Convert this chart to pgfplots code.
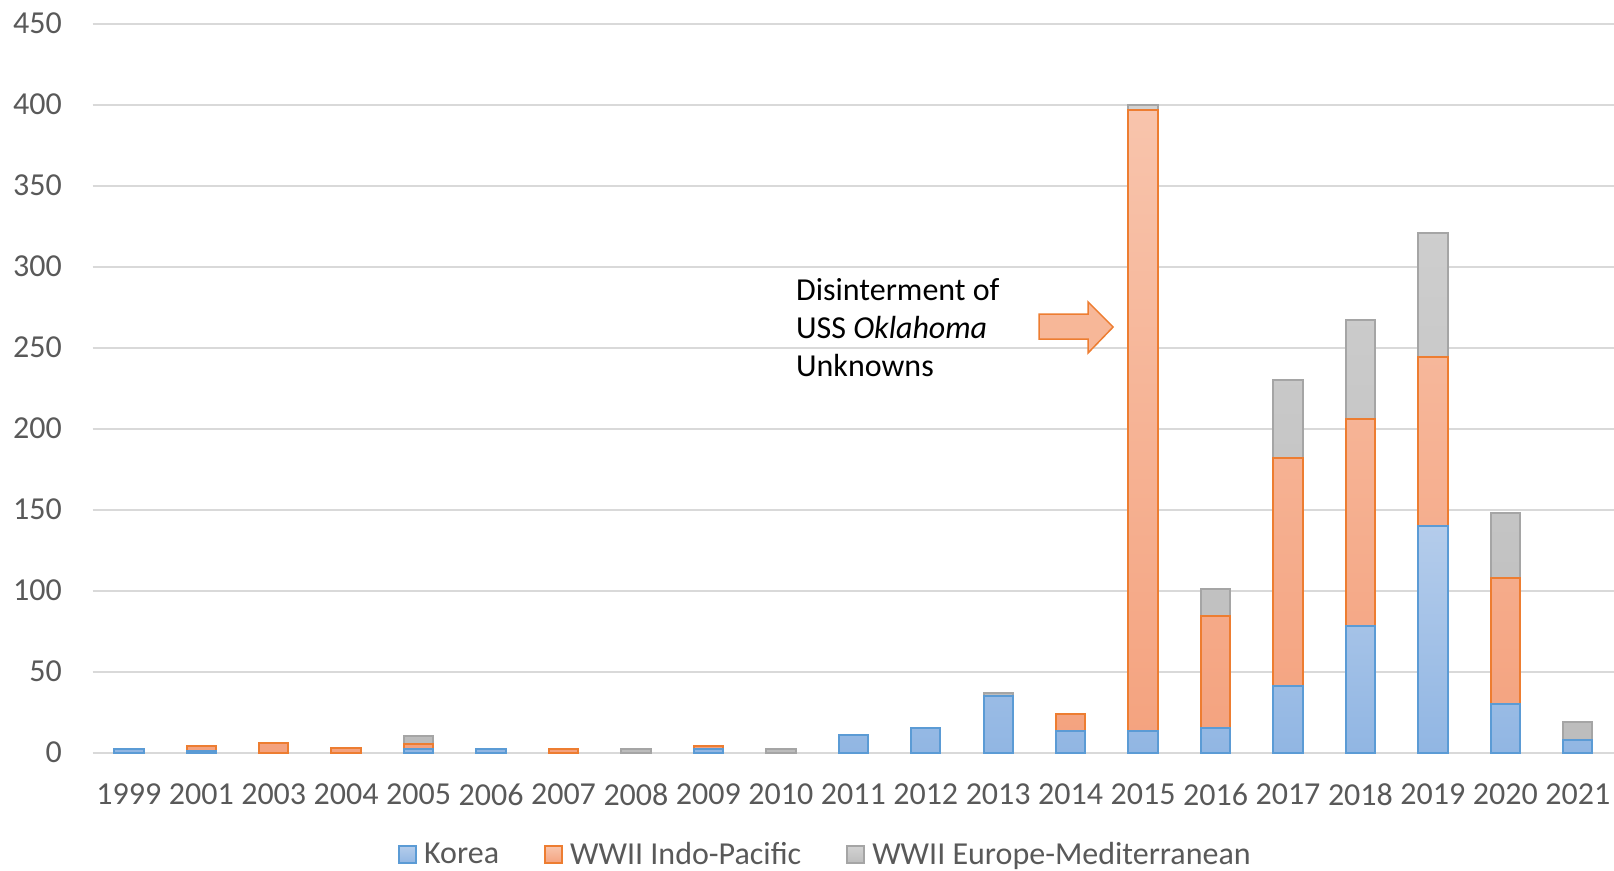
\documentclass[border=0pt]{standalone}
\usepackage{pgfplots}
\pgfplotsset{compat=1.18}
\usepackage{pgfplotstable}
\usepackage{fontspec}
\setmainfont{Carlito}
\definecolor{kB}{RGB}{91,155,213}
\definecolor{kT}{RGB}{180,204,235}
\definecolor{kBo}{RGB}{145,182,227}
\definecolor{iB}{RGB}{237,125,49}
\definecolor{iT}{RGB}{248,196,172}
\definecolor{iBo}{RGB}{244,162,126}
\definecolor{eB}{RGB}{165,165,165}
\definecolor{eT}{RGB}{210,210,210}
\definecolor{eBo}{RGB}{188,188,188}
\definecolor{tickc}{RGB}{89,89,89}
\definecolor{gridc}{RGB}{217,217,217}
\definecolor{arrowf}{RGB}{247,183,152}

\pgfplotstableread{
idx K I E
0 2 0 0
1 1 3 0
2 0 6 0
3 0 3 0
4 2 3 5
5 2 0 0
6 0 2 0
7 0 0 2
8 2 2 0
9 0 0 2
10 11 0 0
11 15 0 0
12 35 0 2
13 13 11 0
14 13 384 3
15 15 69 17
16 41 141 48
17 78 128 61
18 140 104 77
19 30 78 40
20 8 0 11
}\data

\begin{document}
\begin{tikzpicture}
\begin{axis}[
  scale only axis,
  width=760.7bp, height=364.4bp,
  at={(0,0)}, anchor=south west,
  xmin=-0.5, xmax=20.5,
  ymin=0, ymax=450,
  ytick={0,50,...,450},
  xtick={0,...,20},
  xticklabels={1999,2001,2003,2004,2005,2006,2007,2008,2009,2010,2011,2012,2013,2014,2015,2016,2017,2018,2019,2020,2021},
  ymajorgrids,
  major grid style={draw=gridc, line width=1bp},
  axis line style={draw=none},
  major tick length=0pt,
  /pgf/number format/assume math mode=true,
  tick label style={font=\fontsize{16bp}{19bp}\selectfont, text=tickc},
  yticklabel style={anchor=east, inner sep=0pt, xshift=-15.2bp},
  xticklabel style={anchor=north, inner sep=0pt, yshift=-15.6bp},
  clip=false,
  legend columns=3,
  legend cell align=left,
  legend image code/.code={\draw[#1] (0bp,-4.3bp) rectangle (8.6bp,4.3bp); \path[draw=none,fill=none] (8.6bp,0bp) -- (11bp,0bp);},
  legend style={at={(rel axis cs:0.482,-0.1405)}, anchor=center, draw=none, fill=none,
    font=\fontsize{16bp}{19bp}\selectfont, text=tickc, inner sep=0pt,
    nodes={inner sep=1.5bp},
    /tikz/every even column/.append style={column sep=21bp}},
]
\addlegendimage{draw=kB, line width=1bp, top color=kT, bottom color=kBo}
\addlegendentry{Korea}
\addlegendimage{draw=iB, line width=1bp, top color=iT, bottom color=iBo}
\addlegendentry{WWII Indo-Pacific}
\addlegendimage{draw=eB, line width=1bp, top color=eT, bottom color=eBo}
\addlegendentry{WWII Europe-Mediterranean}

\addplot[ybar, bar shift=0pt, bar width=14.7bp, draw=eB, line width=1bp, top color=eT, bottom color=eBo, forget plot]
  table[x=idx, y expr={(\thisrow{E}>0) ? (\thisrow{K}+\thisrow{I}+\thisrow{E}) : nan}] {\data};
\addplot[ybar, bar shift=0pt, bar width=14.7bp, draw=iB, line width=1bp, top color=iT, bottom color=iBo, forget plot]
  table[x=idx, y expr={(\thisrow{I}>0) ? (\thisrow{K}+\thisrow{I}) : nan}] {\data};
\addplot[ybar, bar shift=0pt, bar width=14.7bp, draw=kB, line width=1bp, top color=kT, bottom color=kBo, forget plot]
  table[x=idx, y expr={(\thisrow{K}>0) ? (\thisrow{K}) : nan}] {\data};

\node[anchor=west, align=left, inner sep=0pt, font=\fontsize{16bp}{19bp}\selectfont] at (axis cs:9.205,262.5) {Disinterment of\\USS \textit{Oklahoma}\\Unknowns};
\draw[iB, line width=0.75bp, fill=arrowf] (axis cs:12.565,255.3) -- (axis cs:13.241,255.3) -- (axis cs:13.241,246.7) -- (axis cs:13.586,262.7) -- (axis cs:13.241,278.2) -- (axis cs:13.241,270.7) -- (axis cs:12.565,270.7) -- cycle;
\end{axis}
\pgfresetboundingbox
\path (-46.3bp,-59.25bp) rectangle (760.7bp,376.25bp);
\end{tikzpicture}
\end{document}
